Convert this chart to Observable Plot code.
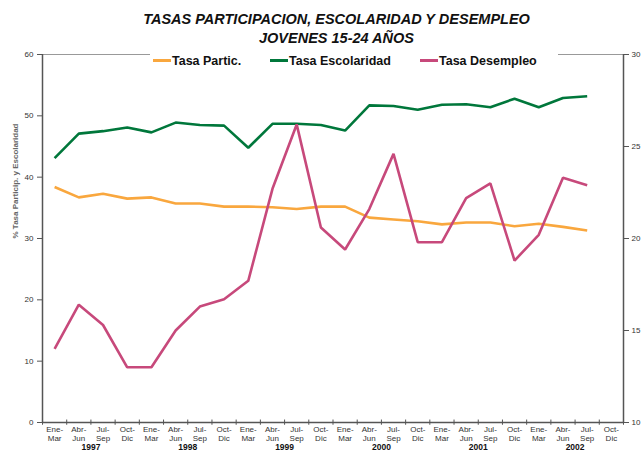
<!DOCTYPE html>
<html>
<head>
<meta charset="utf-8">
<script src="https://cdn.jsdelivr.net/npm/d3@7"></script>
<script src="https://cdn.jsdelivr.net/npm/@observablehq/plot@0.6"></script>
<style>
  html, body { margin: 0; padding: 0; background: #fff; }
  #wrap { position: relative; width: 641px; height: 452px; font-family: "Liberation Sans", Arial, sans-serif; overflow: hidden; }
  #title { position: absolute; top: 10px; left: 16px; width: 641px; text-align: center; font-size: 14.5px; font-weight: bold; font-style: italic; line-height: 19px; color: #111; z-index: 2; }
  #chart { position: absolute; top: 0; left: 0; }
  #legend { position: absolute; top: 53px; left: 150px; width: 408px; height: 17px; background: #fff; z-index: 2; font-size: 12.5px; font-weight: bold; color: #111; }
  .item { position: absolute; top: 0; height: 17px; line-height: 17px; white-space: nowrap; }
  .sw { display: inline-block; width: 18px; height: 3px; vertical-align: middle; margin-right: 1px; position: relative; top: -1px; }
</style>
</head>
<body>
<div id="wrap">
  <div id="chart"></div>
  <div id="title">TASAS PARTICIPACION, ESCOLARIDAD Y DESEMPLEO<br>JOVENES 15-24 AÑOS</div>
  <div id="legend"></div>
</div>
<script>
const quarters = ["Ene-\nMar", "Abr-\nJun", "Jul-\nSep", "Oct-\nDic"];
const years = ["1997", "1998", "1999", "2000", "2001", "2002"];

// Tasa Participación (eje izquierdo)
const participacion = [38.4, 36.7, 37.3, 36.5, 36.7, 35.7, 35.7, 35.2, 35.2, 35.1, 34.8, 35.2,
  35.2, 33.4, 33.1, 32.8, 32.3, 32.6, 32.6, 32.0, 32.4, 31.9, 31.3];
// Tasa Escolaridad (eje izquierdo)
const escolaridad = [43.1, 47.1, 47.5, 48.1, 47.3, 48.9, 48.5, 48.4, 44.8, 48.7, 48.7, 48.5,
  47.6, 51.7, 51.6, 51.0, 51.8, 51.9, 51.4, 52.8, 51.4, 52.9, 53.2];
// Tasa Desempleo (eje derecho)
const desempleo = [14.0, 16.4, 15.3, 13.0, 13.0, 15.0, 16.3, 16.7, 17.7, 22.7, 26.2, 20.6,
  19.4, 21.6, 24.6, 19.8, 19.8, 22.2, 23.0, 18.8, 20.2, 23.3, 22.9];

const leftTicks = [0, 10, 20, 30, 40, 50, 60];
const rightTicks = [10, 15, 20, 25, 30];
const rightDomain = [10, 30];
const leftDomain = [0, 60];

const seriesNames = ["Tasa Partic.", "Tasa Escolaridad", "Tasa Desempleo"];
const colors = ["#F9A73E", "#00773B", "#C7497B"];
const yLabel = "% Tasa Particip. y Escolaridad";

// map right-axis values onto the left scale
const toLeft = v => leftDomain[0] + (v - rightDomain[0]) * (leftDomain[1] - leftDomain[0]) / (rightDomain[1] - rightDomain[0]);

const nCat = years.length * quarters.length;
const cats = d3.range(nCat).map(i => ({i, label: quarters[i % 4]}));
const boundaries = d3.range(nCat + 1).map(i => i - 0.5);
const yearPos = years.map((y, k) => ({x: k * 4 + 1.5, y}));

const rows = [];
participacion.forEach((v, i) => rows.push({i, v, s: seriesNames[0]}));
escolaridad.forEach((v, i) => rows.push({i, v, s: seriesNames[1]}));
desempleo.forEach((v, i) => rows.push({i, v: toLeft(v), s: seriesNames[2]}));

const axisColor = "#555";
const textColor = "#333";

const chart = Plot.plot({
  width: 641,
  height: 452,
  marginLeft: 42,
  marginRight: 18,
  marginTop: 54,
  marginBottom: 30,
  style: {fontFamily: "'Liberation Sans', Arial, sans-serif", background: "#fff", overflow: "visible"},
  x: {type: "linear", domain: [-0.5, nCat - 0.5], axis: null},
  y: {domain: leftDomain, axis: null},
  color: {domain: seriesNames, range: colors},
  marks: [
    Plot.ruleY([leftDomain[1]], {stroke: "#999", strokeWidth: 1}),
    Plot.axisY({anchor: "left", ticks: leftTicks, tickSize: 5, tickPadding: 4, fontSize: 8, color: textColor, stroke: axisColor, label: null}),
    Plot.axisY({anchor: "right", ticks: rightTicks.map(toLeft), tickFormat: d => String(Math.round(rightDomain[0] + d * (rightDomain[1] - rightDomain[0]) / (leftDomain[1] - leftDomain[0]))), tickSize: 5, tickPadding: 3, fontSize: 8, color: textColor, stroke: axisColor, label: null}),
    Plot.line(rows, {x: "i", y: "v", z: "s", stroke: "s", strokeWidth: 2.6, strokeLinejoin: "miter", strokeLinecap: "butt"}),
    Plot.ruleX([-0.5], {stroke: axisColor, strokeWidth: 1.5}),
    Plot.ruleX([nCat - 0.5], {stroke: axisColor, strokeWidth: 1.5}),
    Plot.ruleY([leftDomain[0]], {stroke: axisColor, strokeWidth: 1.5}),
    Plot.ruleX(boundaries, {x: d => d, y1: -0.45, y2: 0.4, stroke: axisColor, strokeWidth: 1}),
    Plot.text(cats, {x: "i", text: "label", frameAnchor: "bottom", dy: 3, lineAnchor: "top", fontSize: 8, lineHeight: 1.12, fill: textColor}),
    Plot.text(yearPos, {x: "x", text: "y", frameAnchor: "bottom", dy: 25, lineAnchor: "middle", fontSize: 8.5, fontWeight: "bold", fill: "#111"}),
    Plot.text([yLabel], {text: d => d, frameAnchor: "left", rotate: -90, dx: -27, fontSize: 8, fontWeight: "bold", fill: "#666"})
  ]
});
document.getElementById("chart").appendChild(chart);

// legend
const legend = document.getElementById("legend");
const legendLeft = [3, 120, 270];
seriesNames.forEach((name, k) => {
  const it = document.createElement("div");
  it.className = "item";
  it.style.left = legendLeft[k] + "px";
  it.innerHTML = `<span class="sw" style="background:${colors[k]}"></span>${name}`;
  legend.appendChild(it);
});
</script>
</body>
</html>
